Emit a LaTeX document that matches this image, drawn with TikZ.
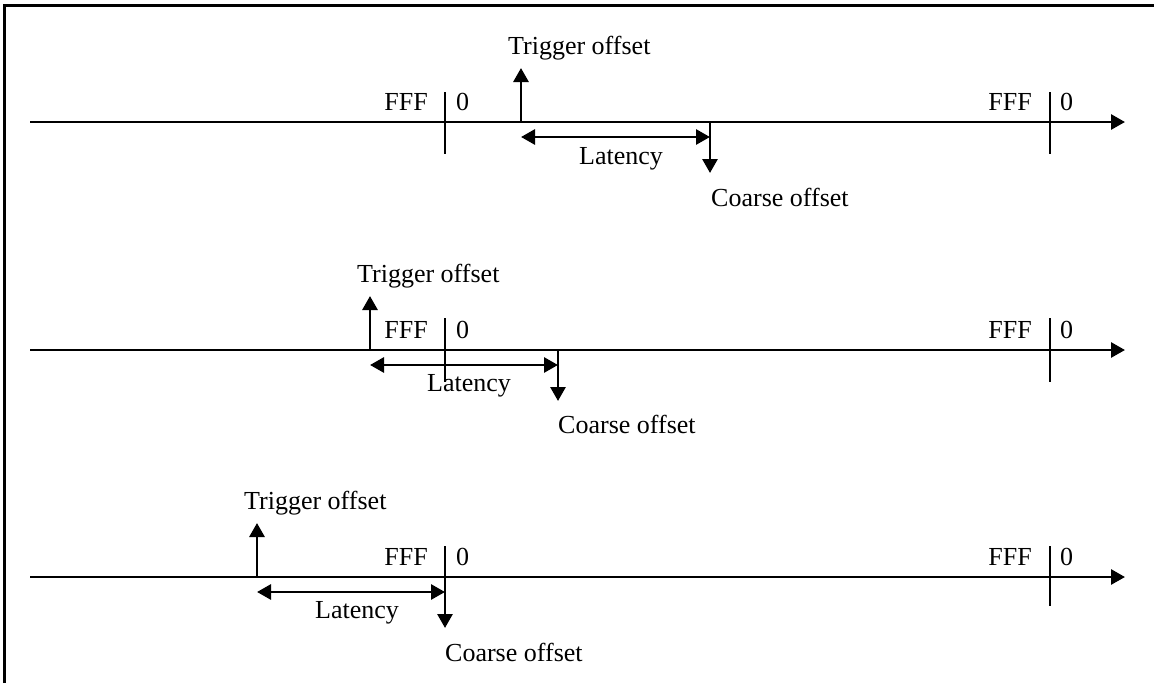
\documentclass[tikz,border=0pt]{standalone}
\usepackage{fontspec}
\setmainfont{Liberation Serif}
\usepackage{tikz}
\usetikzlibrary{arrows.meta}
\tikzstyle{axisline}=[line width=2.8pt,-{Triangle[length=14pt,width=15pt]}]
\tikzstyle{tickline}=[line width=2.8pt]
\tikzstyle{markline}=[line width=2.8pt,-{Triangle[length=14pt,width=15pt]}]
\tikzstyle{spanline}=[line width=2.8pt,{Triangle[length=14pt,width=15pt]}-{Triangle[length=14pt,width=15pt]}]
\tikzstyle{txt}=[inner sep=0pt,font=\fontsize{26}{30}\selectfont]

\begin{document}
\begin{tikzpicture}[x=1pt,y=-1pt]
        \useasboundingbox (0,0) rectangle (1154,683);
        \draw[line width=3.5pt] (4.5,683) -- (4.5,5.5) -- (1154,5.5);

        % first line
        \coordinate (a0) at (30,122);
        \coordinate (a1) at (1125,122);
        \coordinate (at1) at (445,92);
        \coordinate (ab1) at (445,154);
        \coordinate (at2) at (1050,92);
        \coordinate (ab2) at (1050,154);
        \coordinate (atr) at (521,122);
        \coordinate (atrtip) at (521,68);
        \coordinate (al1) at (521,137);
        \coordinate (al2) at (710,137);
        \coordinate (aco) at (710,122);
        \coordinate (acotip) at (710,173);
        \draw [axisline] (a0) -- (a1);
        \draw [tickline] (at1) -- (ab1);
        \draw [tickline] (at2) -- (ab2);
        \draw [markline] (atr) -- (atrtip);
        \draw [spanline] (al1) -- (al2);
        \draw [markline] (aco) -- (acotip);
        \node at (428,110) [txt,anchor=base east] (affa) {FFF};
        \node at (456,110) [txt,anchor=base west] (azra) {0};
        \node at (1032,110) [txt,anchor=base east] (affb) {FFF};
        \node at (1060,110) [txt,anchor=base west] (azrb) {0};
        \node at (508,54) [txt,anchor=base west] (atrig) {Trigger offset};
        \node at (621,164) [txt,anchor=base] (alat) {Latency};
        \node at (711,206) [txt,anchor=base west] (acoar) {Coarse offset};

        % second line
        \coordinate (b0) at (30,350);
        \coordinate (b1) at (1125,350);
        \coordinate (bt1) at (445,318);
        \coordinate (bb1) at (445,382);
        \coordinate (bt2) at (1050,318);
        \coordinate (bb2) at (1050,382);
        \coordinate (btr) at (370,350);
        \coordinate (btrtip) at (370,296);
        \coordinate (bl1) at (370,365);
        \coordinate (bl2) at (558,365);
        \coordinate (bco) at (558,350);
        \coordinate (bcotip) at (558,401);
        \draw [axisline] (b0) -- (b1);
        \draw [tickline] (bt1) -- (bb1);
        \draw [tickline] (bt2) -- (bb2);
        \draw [markline] (btr) -- (btrtip);
        \draw [spanline] (bl1) -- (bl2);
        \draw [markline] (bco) -- (bcotip);
        \node at (428,338) [txt,anchor=base east] (bffa) {FFF};
        \node at (456,338) [txt,anchor=base west] (bzra) {0};
        \node at (1032,338) [txt,anchor=base east] (bffb) {FFF};
        \node at (1060,338) [txt,anchor=base west] (bzrb) {0};
        \node at (357,282) [txt,anchor=base west] (btrig) {Trigger offset};
        \node at (469,391) [txt,anchor=base] (blat) {Latency};
        \node at (558,433) [txt,anchor=base west] (bcoar) {Coarse offset};

        % third line
        \coordinate (c0) at (30,577);
        \coordinate (c1) at (1125,577);
        \coordinate (ct1) at (445,546);
        \coordinate (cb1) at (445,600);
        \coordinate (ct2) at (1050,546);
        \coordinate (cb2) at (1050,606);
        \coordinate (ctr) at (257,577);
        \coordinate (ctrtip) at (257,523);
        \coordinate (cl1) at (257,592);
        \coordinate (cl2) at (445,592);
        \coordinate (cco) at (445,577);
        \coordinate (ccotip) at (445,628);
        \draw [axisline] (c0) -- (c1);
        \draw [tickline] (ct1) -- (cb1);
        \draw [tickline] (ct2) -- (cb2);
        \draw [markline] (ctr) -- (ctrtip);
        \draw [spanline] (cl1) -- (cl2);
        \draw [markline] (cco) -- (ccotip);
        \node at (428,565) [txt,anchor=base east] (cffa) {FFF};
        \node at (456,565) [txt,anchor=base west] (czra) {0};
        \node at (1032,565) [txt,anchor=base east] (cffb) {FFF};
        \node at (1060,565) [txt,anchor=base west] (czrb) {0};
        \node at (244,509) [txt,anchor=base west] (ctrig) {Trigger offset};
        \node at (357,618) [txt,anchor=base] (clat) {Latency};
        \node at (445,661) [txt,anchor=base west] (ccoar) {Coarse offset};
      \end{tikzpicture}
\end{document}
